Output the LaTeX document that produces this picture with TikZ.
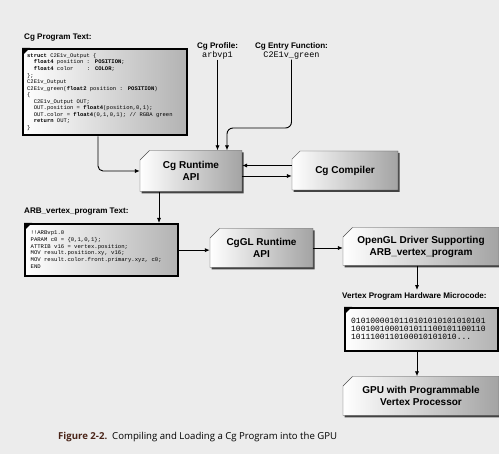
\documentclass[tikz,border=0pt]{standalone}
\usepackage{fontspec}
\setmainfont{Liberation Sans}
\setmonofont{Liberation Mono}
\newfontfamily\capfont{Open Sans}
\usetikzlibrary{shapes.misc,shadows,arrows.meta}

\definecolor{paper}{HTML}{ECECEC}
\definecolor{figred}{HTML}{4A2418}

\begin{document}
\begin{tikzpicture}[x=1pt,y=-1pt,
  proc/.style={chamfered rectangle, chamfered rectangle corners=north west,
    chamfered rectangle xsep=6pt, draw=gray!60!black, line width=0.4pt,
    left color=white, middle color=gray!20, right color=gray!72,
    drop shadow={shadow xshift=1.6pt, shadow yshift=-1.8pt, fill=black!85, opacity=.85},
    font=\bfseries\fontsize{10}{12}\selectfont, align=center, inner sep=0pt},
  codebox/.style={draw=black, line width=2.3pt, left color=white,
    middle color=gray!20, right color=gray!60, anchor=north west,
    inner sep=0pt, align=left},
  lbl/.style={font=\bfseries\fontsize{8.1}{10}\selectfont, inner sep=0pt},
  arr/.style={-{Latex[length=5pt,width=4.2pt]}, line width=0.9pt},
  corner/.style={fill=black}
]
\useasboundingbox (0,0) rectangle (499,454);
\fill[paper] (0,0) rectangle (499,454);

% labels above the source boxes
\node[lbl, anchor=west] (proglbl) at (24,38) {Cg Program Text:};
\node[lbl, align=center] (profile) at (217.5,51)
  {Cg Profile:\\[-1pt]{\mdseries\ttfamily\fontsize{8.5}{10}\selectfont arbvp1}};
\node[lbl, align=center] (entry) at (291.5,51)
  {Cg Entry Function:\\[-1pt]{\mdseries\ttfamily\fontsize{8.5}{10}\selectfont C2E1v\_green}};

% Cg source program
\node[codebox, minimum width=164pt, minimum height=86pt, text width=156pt] (prog) at (22,48)
  {\ttfamily\fontsize{5.5}{6.55}\selectfont
   \begin{tabular}{@{}l@{}}
   \textbf{struct} C2E1v\_Output \{\\
   \ \ \textbf{float4} position : \textbf{POSITION};\\
   \ \ \textbf{float4} color\ \ \ \ : \textbf{COLOR};\\
   \};\\
   C2E1v\_Output\\
   C2E1v\_green(\textbf{float2} position : \textbf{POSITION})\\
   \{\\
   \ \ C2E1v\_Output OUT;\\
   \ \ OUT.position = \textbf{float4}(position,0,1);\\
   \ \ OUT.color = \textbf{float4}(0,1,0,1); // RGBA green\\
   \ \ \textbf{return} OUT;\\
   \}
   \end{tabular}};
\fill[corner] (prog.north west) -- ++(8,0) -- ++(-8,8) -- cycle;

% runtime and compiler
\node[proc, minimum width=102pt, minimum height=41pt] (runtime) at (191,171) {Cg Runtime\\API};
\node[proc, minimum width=106pt, minimum height=39pt] (compiler) at (345,170.5) {Cg Compiler};

% assembly output
\node[lbl, anchor=west] (arblbl) at (24,212) {ARB\_vertex\_program Text:};
\node[codebox, minimum width=153pt, minimum height=52pt, text width=142pt] (arb) at (24,223)
  {\ttfamily\fontsize{5.6}{6.8}\selectfont
   \begin{tabular}{@{}l@{}}
   !!ARBvp1.0\\
   PARAM c0 = \{0,1,0,1\};\\
   ATTRIB v16 = vertex.position;\\
   MOV result.position.xy, v16;\\
   MOV result.color.front.primary.xyz, c0;\\
   END
   \end{tabular}};
\fill[corner] (arb.north west) -- ++(8,0) -- ++(-8,8) -- cycle;

\node[proc, minimum width=103pt, minimum height=39pt] (cggl) at (261.5,248) {CgGL Runtime\\API};
\node[proc, minimum width=156pt, minimum height=38pt] (opengl) at (421,246.5)
  {OpenGL Driver Supporting\\ARB\_vertex\_program};

% microcode
\node[lbl, anchor=west] (mclbl) at (342,296) {Vertex Program Hardware Microcode:};
\node[codebox, minimum width=153pt, minimum height=43pt, text width=141pt] (mc) at (344,307)
  {\ttfamily\fontsize{8}{8.3}\selectfont
   \begin{tabular}{@{}l@{}}
   0101000010110101010101010101\\
   1001001000101011100101100110\\
   1011100110100010101010...
   \end{tabular}};
\fill[corner] (mc.north west) -- ++(8,0) -- ++(-8,8) -- cycle;

\node[proc, minimum width=156pt, minimum height=39pt] (gpu) at (421,396)
  {GPU with Programmable\\Vertex Processor};

% connectors
\coordinate (progdrop) at (98,0);
\coordinate (hwdrop) at (417,0);
\draw[arr, rounded corners=5pt] (prog.south -| progdrop) |- (runtime.west);
\draw[arr] (profile.south) -- (profile.south |- runtime.north);
\draw[arr, rounded corners=6pt] (entry.south) -- (entry.south |- 0,128)
  -| ([xshift=36pt]runtime.north);
\draw[arr] ([yshift=5pt]compiler.west) -- ([yshift=5pt]compiler.west -| runtime.east);
\draw[arr] ([yshift=-5pt]runtime.east) -- ([yshift=-5pt]runtime.east -| compiler.west);
\draw[arr] ([xshift=-32pt]runtime.south) -- ([xshift=-32pt]runtime.south |- arb.north);
\draw[arr] (arb.east) -- (arb.east -| cggl.west);
\draw[arr] (cggl.east) -- (cggl.east -| opengl.west);
\draw[arr] (opengl.south -| hwdrop) -- ([yshift=2pt]mclbl.north -| hwdrop);
\draw[arr] (mc.south -| hwdrop) -- (gpu.north -| hwdrop);

% caption
\node[anchor=west, inner sep=0pt, font=\capfont\fontsize{9.6}{11}\selectfont] (caption) at (58,437)
  {{\color{figred}\bfseries Figure 2-2.}\ \ Compiling and Loading a Cg Program into the GPU};
\end{tikzpicture}
\end{document}
